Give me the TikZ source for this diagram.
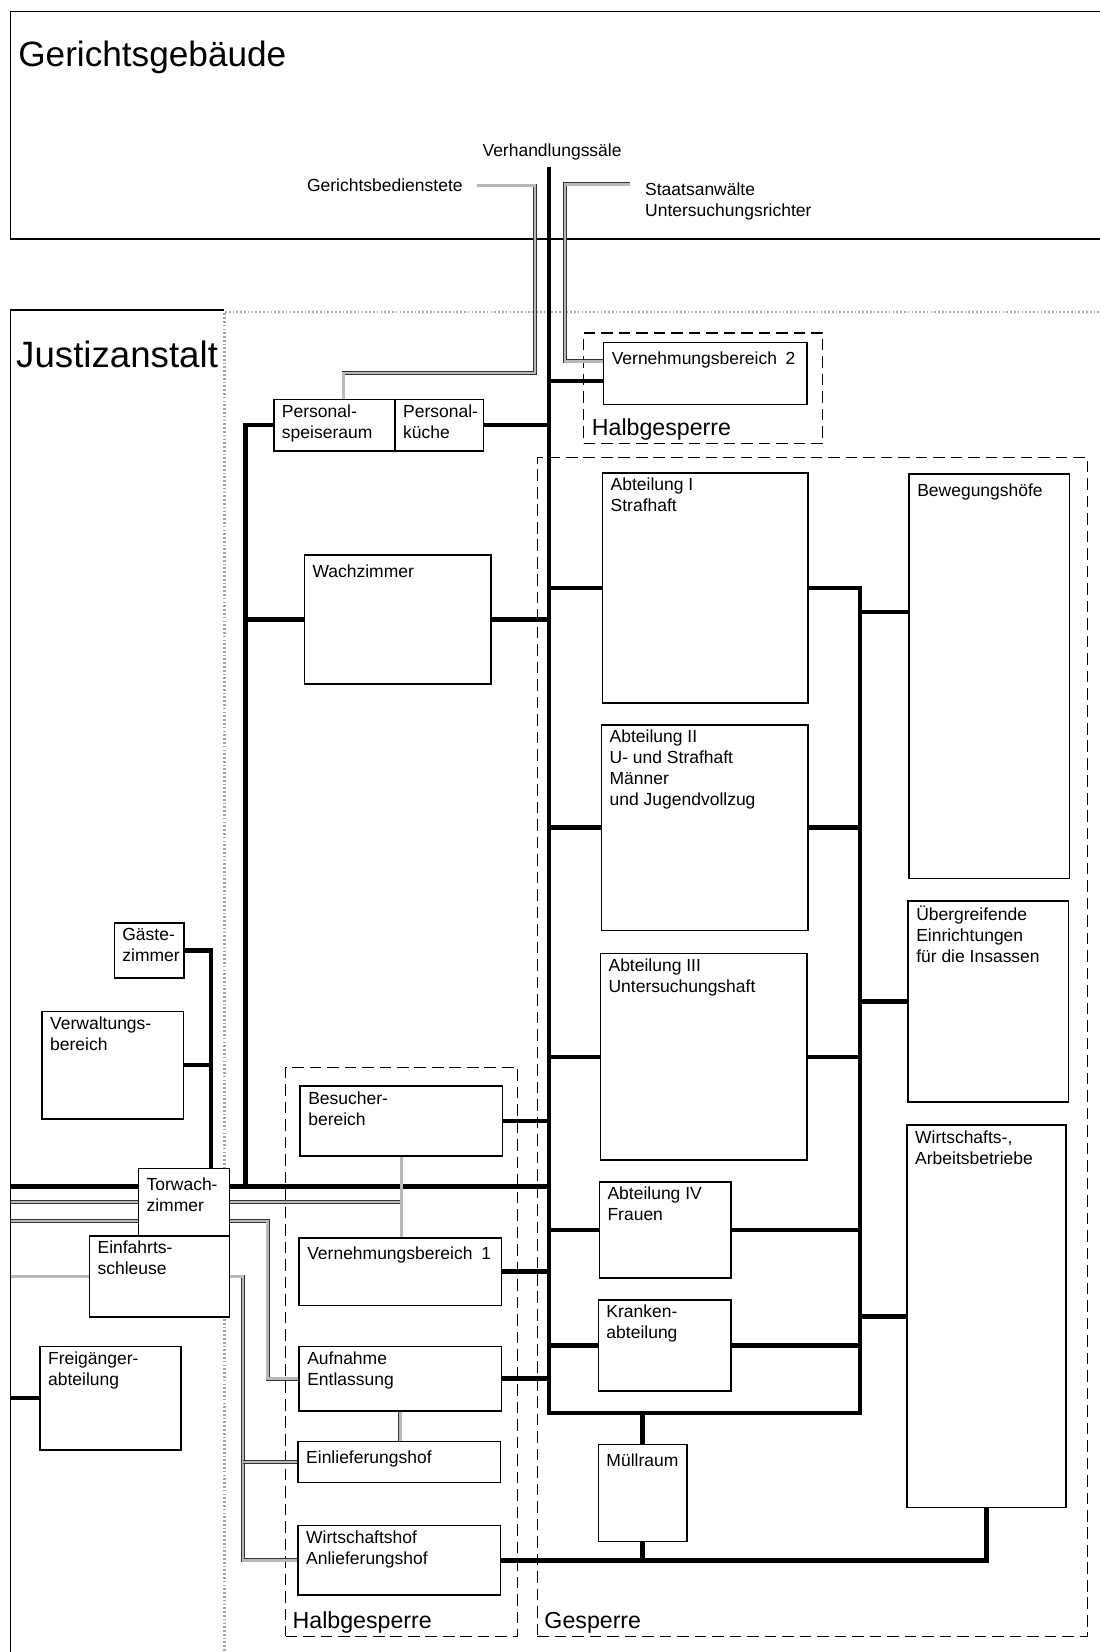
\documentclass[tikz,border=0pt]{standalone}
\usepackage{fontspec}
\setmainfont{Liberation Sans}
\usetikzlibrary{fit}

\begin{document}
\begin{tikzpicture}[x=0.5pt, y=-0.5pt,
    room/.style={draw, line width=0.75pt, inner sep=0pt},
    zone/.style={draw, line width=0.6pt, dash pattern=on 5.5pt off 2.8pt, inner sep=0pt},
    lbl/.style={anchor=north west, align=left, inner xsep=4pt, inner ysep=2.6pt,
        font=\fontsize{8.3}{10}\selectfont, execute at begin node={\rule{0pt}{8pt}}},
    txt/.style={font=\fontsize{8.3}{10}\selectfont, align=left},
    zonelbl/.style={anchor=base west, font=\fontsize{11}{13}\selectfont, inner sep=0pt},
    bus/.style={line width=2.1pt},
    gang/.style={draw=black!80, line width=0.35pt, double=gray!55, double distance=1.1pt},
    wall/.style={gray!70, line width=1.1pt, dash pattern=on 0.8pt off 1pt},
    frame/.style={line width=0.8pt}]
    \useasboundingbox (0,0) rectangle (1044,1568);

    % Gerichtsgebaeude
    \draw[frame] (1044,11) -- (10,11) -- (10,227) -- (1044,227);
    \node[font=\fontsize{16.7}{20}\selectfont, inner sep=0pt, anchor=base west] (gericht) at (17,63) {Gerichtsgebäude};
    \node[txt] (saal) at (524,144) {Verhandlungssäle};
    \node[txt, anchor=east, inner xsep=6.5pt] (bedien) at (452.5,176) {Gerichtsbedienstete};
    \node[txt, anchor=north west, inner xsep=7pt, inner ysep=1pt] (staats) at (598,171) {Staatsanwälte\\Untersuchungsrichter};

    % Justizanstalt, Mauer
    \draw[frame] (213,294) -- (10,294) -- (10,1568);
    \draw[wall] (213,1109) -- (213,296) -- (1044,296);
    \draw[wall] (213,1252) -- (213,1568);
    \node[font=\fontsize{17.4}{20}\selectfont, inner sep=0pt, anchor=base west] (anstalt) at (15,349) {Justizanstalt};

    % Zonen
    \node[zone, fit={(554,316) (781,421)}] (hg1) {};
    \node[zone, fit={(271,1013) (491,1553)}] (hg2) {};
    \node[zone, fit={(510,434) (1032,1553)}] (gesp) {};
    \node[zonelbl] at ([xshift=4pt,yshift=4pt]hg1.south west) {Halbgesperre};
    \node[zonelbl] at ([xshift=3.5pt,yshift=4pt]hg2.south west) {Halbgesperre};
    \node[zonelbl] at ([xshift=3.5pt,yshift=4pt]gesp.south west) {Gesperre};

    % Raeume
    \node[room, fit={(260,379) (375,428)}] (speise) {};
    \node[room, fit={(375,379) (459,428)}] (kueche) {};
    \node[room, fit={(573,325) (766,384)}] (vern2) {};
    \node[room, fit={(289,527) (466,649)}] (wach) {};
    \node[room, fit={(572,449) (767,667)}] (abt1) {};
    \node[room, fit={(571,688) (767,883)}] (abt2) {};
    \node[room, fit={(570,905) (766,1101)}] (abt3) {};
    \node[room, fit={(569,1122) (694,1213)}] (abt4) {};
    \node[room, fit={(568,1234) (694,1320)}] (kranken) {};
    \node[room, fit={(568,1371) (652,1463)}] (muell) {};
    \node[room, fit={(863,450) (1015,834)}] (bew) {};
    \node[room, fit={(862,855) (1014,1046)}] (uebg) {};
    \node[room, fit={(861,1068) (1012,1431)}] (wib) {};
    \node[room, fit={(108.5,876) (174.5,928)}] (gaeste) {};
    \node[room, fit={(40,960) (174,1062)}] (verw) {};
    \node[room, fit={(131.5,1109) (218,1173)}] (torwach) {};
    \node[room, fit={(85,1173) (218,1250)}] (einf) {};
    \node[room, fit={(38,1278) (172,1376)}] (frei) {};
    \node[room, fit={(285,1031) (477,1097)}] (besuch) {};
    \node[room, fit={(284,1175) (476,1239)}] (vern1) {};
    \node[room, fit={(284,1278) (476,1339)}] (aufn) {};
    \node[room, fit={(283,1368) (475,1407)}] (einl) {};
    \node[room, fit={(283,1448) (475,1514)}] (whof) {};

    % Beschriftung
    \node[lbl] at (speise.north west) {Personal-\\speiseraum};
    \node[lbl] at (kueche.north west) {Personal-\\küche};
    \node[lbl] at (vern2.north west) {Vernehmungsbereich\enspace 2};
    \node[lbl] at (wach.north west) {Wachzimmer};
    \node[lbl] at (abt1.north west) {Abteilung I\\Strafhaft};
    \node[lbl] at (abt2.north west) {Abteilung II\\U- und Strafhaft\\Männer\\und Jugendvollzug};
    \node[lbl] at (abt3.north west) {Abteilung III\\Untersuchungshaft};
    \node[lbl] at (abt4.north west) {Abteilung IV\\Frauen};
    \node[lbl] at (kranken.north west) {Kranken-\\abteilung};
    \node[lbl] at (muell.north west) {Müllraum};
    \node[lbl] at (bew.north west) {Bewegungshöfe};
    \node[lbl] at (uebg.north west) {Übergreifende\\Einrichtungen\\für die Insassen};
    \node[lbl] at (wib.north west) {Wirtschafts-,\\Arbeitsbetriebe};
    \node[lbl] at (gaeste.north west) {Gäste-\\zimmer};
    \node[lbl] at (verw.north west) {Verwaltungs-\\bereich};
    \node[lbl, yshift=-2pt] at (torwach.north west) {Torwach-\\zimmer};
    \node[lbl] at (einf.north west) {Einfahrts-\\schleuse};
    \node[lbl] at (frei.north west) {Freigänger-\\abteilung};
    \node[lbl] at (besuch.north west) {Besucher-\\bereich};
    \node[lbl] at (vern1.north west) {Vernehmungsbereich\enspace 1};
    \node[lbl] at (aufn.north west) {Aufnahme\\Entlassung};
    \node[lbl] at (einl.north west) {Einlieferungshof};
    \node[lbl] at (whof.north west) {Wirtschaftshof\\Anlieferungshof};

    % Gaenge
    \coordinate (ms) at (521,1341);
    \coordinate (rs) at (816,1341);
    \coordinate (ls) at (233,1126);
    \coordinate (gv) at (200,1109);
    \coordinate (rand) at (10,1126);

    \draw[bus] (saal.south -| ms) -- (ms) -- (rs) -- (abt1.east -| rs) -- (abt1.east);
    \draw[bus] (abt1.west) -- (abt1.west -| ms);
    \foreach \n in {abt2,abt3,abt4,kranken} {
        \draw[bus] (\n.west) -- (\n.west -| ms);
        \draw[bus] (\n.east) -- (\n.east -| rs);
    }
    \foreach \n in {besuch,vern1,aufn}
        \draw[bus] (\n.east) -- (\n.east -| ms);
    \draw[bus] (kueche.east) -- (kueche.east -| ms);
    \draw[bus] ([yshift=-3.5pt]vern2.west) -- ([yshift=-3.5pt]vern2.west -| ms);
    \draw[bus] (wach.east) -- (wach.east -| ms);
    \draw[bus] (speise.west) -| (ls);
    \draw[bus] (wach.west) -- (wach.west -| ls);
    \draw[bus] (torwach.east |- ls) -- (ls -| ms);
    \draw[bus] (rand) -- (torwach.west |- rand);
    \draw[bus] (gaeste.east) -| (gv);
    \draw[bus] (verw.east) -- (verw.east -| gv);
    \draw[bus] (frei.west) -- (frei.west -| rand);
    \draw[bus] ([yshift=30.5pt]bew.west) -- ([yshift=30.5pt]bew.west -| rs);
    \draw[bus] (uebg.west) -- (uebg.west -| rs);
    \draw[bus] (wib.west) -- (wib.west -| rs);
    \draw[bus] (muell.north) -- (muell.north |- ms);
    \draw[bus] (whof.east) -| (wib.south);
    \draw[bus] (muell.south) -- (muell.south |- whof.east);

    % Verbindungen grau
    \coordinate (gb) at (508,354);
    \coordinate (sa) at (536,343);
    \coordinate (af) at (254,1309);
    \coordinate (ew) at (230.5,1200);
    \draw[gang] (bedien.east) -| (gb) -| ([xshift=4.25pt]speise.north);
    \draw[gang] ([yshift=-2pt]staats.north west) -| (sa) -- (sa -| vern2.west);
    \draw[gang] (torwach.west) -- (torwach.west -| rand);
    \draw[gang] ([yshift=-9pt]torwach.west) -- ([yshift=-9pt]torwach.west -| rand);
    \draw[gang] (torwach.east) -- (torwach.east -| besuch.south);
    \draw[gang] (besuch.south) -- (besuch.south |- vern1.north);
    \draw[gang] (aufn.south) -- (aufn.south |- einl.north);
    \draw[gang] ([yshift=-9pt]torwach.east) -| (aufn.west -| af) -- (aufn.west);
    \draw[gang] (einf.east) -| (whof.west -| ew) -- (whof.west);
    \draw[gang] (einl.west) -- (einl.west -| ew);
    \draw[gang] (einf.west) -- (einf.west -| rand);
\end{tikzpicture}
\end{document}
